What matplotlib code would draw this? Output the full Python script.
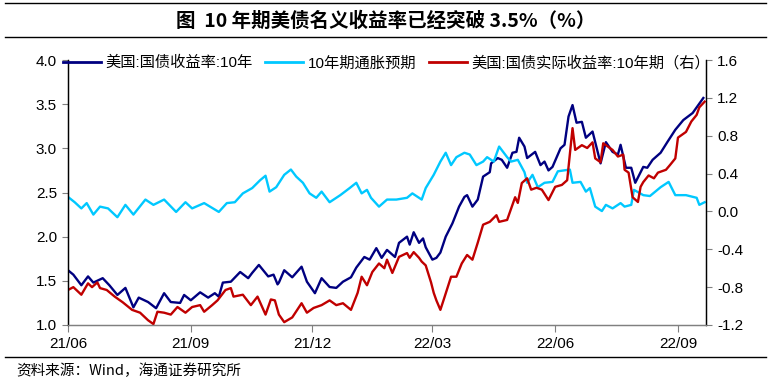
import numpy as np
import pandas as pd
import matplotlib
matplotlib.use("Agg")
import matplotlib.pyplot as plt
from matplotlib.lines import Line2D

plt.rcParams['font.family'] = ['Liberation Sans', 'Noto Sans CJK SC', 'DejaVu Sans']
plt.rcParams['axes.unicode_minus'] = False

# 美国10年期国债收益率（左轴）
nominal_dates = [
    "2021-06-01", "2021-06-05", "2021-06-11", "2021-06-16", "2021-06-20", "2021-06-27",
    "2021-07-02", "2021-07-08", "2021-07-14", "2021-07-20", "2021-07-24", "2021-07-31",
    "2021-08-06", "2021-08-12", "2021-08-17", "2021-08-24", "2021-08-27", "2021-09-01",
    "2021-09-08", "2021-09-14", "2021-09-19", "2021-09-22", "2021-09-25", "2021-10-01",
    "2021-10-08", "2021-10-14", "2021-10-17", "2021-10-22", "2021-10-29", "2021-11-02",
    "2021-11-05", "2021-11-06", "2021-11-10", "2021-11-16", "2021-11-23", "2021-11-27",
    "2021-12-03", "2021-12-08", "2021-12-14", "2021-12-19", "2021-12-24", "2021-12-30",
    "2022-01-03", "2022-01-09", "2022-01-13", "2022-01-18", "2022-01-22", "2022-01-26",
    "2022-02-01", "2022-02-04", "2022-02-10", "2022-02-12", "2022-02-15", "2022-02-19",
    "2022-02-22", "2022-02-24", "2022-03-01", "2022-03-04", "2022-03-07", "2022-03-11",
    "2022-03-16", "2022-03-21", "2022-03-25", "2022-03-27", "2022-03-31", "2022-04-04",
    "2022-04-08", "2022-04-13", "2022-04-14", "2022-04-19", "2022-04-22", "2022-04-26",
    "2022-04-30", "2022-05-03", "2022-05-05", "2022-05-09", "2022-05-11", "2022-05-17",
    "2022-05-21", "2022-05-24", "2022-05-27", "2022-05-30", "2022-06-05", "2022-06-08",
    "2022-06-11", "2022-06-14", "2022-06-17", "2022-06-21", "2022-06-24", "2022-06-29",
    "2022-07-05", "2022-07-09", "2022-07-14", "2022-07-18", "2022-07-20", "2022-07-24",
    "2022-07-28", "2022-07-31", "2022-08-06", "2022-08-09", "2022-08-13", "2022-08-19",
    "2022-08-24", "2022-08-30", "2022-09-05", "2022-09-12", "2022-09-20",
]
nominal = [
    1.62, 1.57, 1.45, 1.55, 1.48, 1.53,
    1.45, 1.34, 1.42, 1.20, 1.31, 1.26,
    1.19, 1.36, 1.26, 1.25, 1.34, 1.28,
    1.37, 1.31, 1.36, 1.32, 1.48, 1.49,
    1.60, 1.53, 1.59, 1.68, 1.55, 1.57,
    1.46, 1.48, 1.62, 1.54, 1.66, 1.49,
    1.36, 1.53, 1.43, 1.42, 1.49, 1.54,
    1.65, 1.77, 1.74, 1.87, 1.76, 1.85,
    1.77, 1.93, 2.00, 1.91, 2.05, 1.93,
    1.98, 1.88, 1.74, 1.76, 1.82, 2.00,
    2.15, 2.34, 2.45, 2.47, 2.34, 2.42,
    2.68, 2.73, 2.83, 2.89, 2.87, 2.78,
    2.95, 2.96, 3.12, 3.02, 2.89, 2.96,
    2.81, 2.85, 2.75, 2.79, 3.00, 3.04,
    3.36, 3.49, 3.29, 3.30, 3.12, 3.19,
    2.83, 3.07, 2.96, 2.93, 3.04, 2.78,
    2.78, 2.61, 2.79, 2.78, 2.87, 2.95,
    3.07, 3.21, 3.32, 3.40, 3.57,
]

# 10年期通胀预期（左轴）
breakeven_dates = [
    "2021-06-01", "2021-06-06", "2021-06-11", "2021-06-15", "2021-06-20", "2021-06-25",
    "2021-07-01", "2021-07-08", "2021-07-14", "2021-07-20", "2021-07-29", "2021-08-04",
    "2021-08-12", "2021-08-21", "2021-08-28", "2021-09-02", "2021-09-11", "2021-09-22",
    "2021-09-28", "2021-10-04", "2021-10-10", "2021-10-17", "2021-10-23", "2021-10-27",
    "2021-10-30", "2021-11-04", "2021-11-10", "2021-11-15", "2021-11-19", "2021-11-24",
    "2021-11-29", "2021-12-04", "2021-12-08", "2021-12-14", "2021-12-22", "2021-12-29",
    "2022-01-03", "2022-01-07", "2022-01-11", "2022-01-14", "2022-01-20", "2022-01-26",
    "2022-02-02", "2022-02-10", "2022-02-14", "2022-02-21", "2022-02-24", "2022-03-02",
    "2022-03-07", "2022-03-11", "2022-03-15", "2022-03-19", "2022-03-25", "2022-03-29",
    "2022-04-03", "2022-04-08", "2022-04-11", "2022-04-16", "2022-04-20", "2022-04-26",
    "2022-04-29", "2022-05-04", "2022-05-09", "2022-05-11", "2022-05-15", "2022-05-19",
    "2022-05-24", "2022-05-30", "2022-06-03", "2022-06-12", "2022-06-14", "2022-06-20",
    "2022-06-24", "2022-06-27", "2022-07-01", "2022-07-06", "2022-07-09", "2022-07-14",
    "2022-07-20", "2022-07-23", "2022-07-28", "2022-07-30", "2022-08-06", "2022-08-11",
    "2022-08-19", "2022-08-25", "2022-08-30", "2022-09-07", "2022-09-15", "2022-09-17",
    "2022-09-21",
]
breakeven = [
    2.45, 2.39, 2.32, 2.38, 2.25, 2.34,
    2.32, 2.22, 2.36, 2.25, 2.42, 2.36,
    2.42, 2.28, 2.39, 2.32, 2.38, 2.28,
    2.38, 2.39, 2.49, 2.55, 2.64, 2.69,
    2.51, 2.56, 2.70, 2.76, 2.68, 2.61,
    2.49, 2.44, 2.51, 2.39, 2.47, 2.55,
    2.61, 2.49, 2.53, 2.44, 2.34, 2.42,
    2.42, 2.44, 2.49, 2.42, 2.55, 2.70,
    2.85, 2.95, 2.81, 2.90, 2.95, 2.93,
    2.81, 2.85, 2.90, 2.85, 3.02, 2.90,
    2.85, 2.87, 2.73, 2.61, 2.70, 2.56,
    2.61, 2.62, 2.74, 2.76, 2.61, 2.62,
    2.51, 2.55, 2.34, 2.29, 2.36, 2.32,
    2.38, 2.34, 2.36, 2.53, 2.47, 2.46,
    2.56, 2.62, 2.47, 2.47, 2.44, 2.36,
    2.39,
]

# 美国10年期国债实际收益率（右轴）
real_dates = [
    "2021-06-01", "2021-06-05", "2021-06-11", "2021-06-16", "2021-06-19", "2021-06-23",
    "2021-06-25", "2021-06-30", "2021-07-06", "2021-07-12", "2021-07-19", "2021-07-25",
    "2021-07-31", "2021-08-04", "2021-08-07", "2021-08-12", "2021-08-17", "2021-08-22",
    "2021-08-28", "2021-09-02", "2021-09-08", "2021-09-11", "2021-09-17", "2021-09-21",
    "2021-09-27", "2021-10-01", "2021-10-03", "2021-10-10", "2021-10-16", "2021-10-21",
    "2021-10-27", "2021-10-31", "2021-11-03", "2021-11-06", "2021-11-10", "2021-11-16",
    "2021-11-23", "2021-11-27", "2021-12-02", "2021-12-08", "2021-12-14", "2021-12-19",
    "2021-12-24", "2021-12-30", "2022-01-04", "2022-01-07", "2022-01-11", "2022-01-15",
    "2022-01-20", "2022-01-24", "2022-01-26", "2022-01-30", "2022-02-04", "2022-02-10",
    "2022-02-12", "2022-02-15", "2022-02-19", "2022-02-21", "2022-02-24", "2022-02-28",
    "2022-03-02", "2022-03-04", "2022-03-07", "2022-03-10", "2022-03-15", "2022-03-19",
    "2022-03-23", "2022-03-27", "2022-03-31", "2022-04-04", "2022-04-08", "2022-04-13",
    "2022-04-18", "2022-04-20", "2022-04-26", "2022-05-02", "2022-05-04", "2022-05-07",
    "2022-05-11", "2022-05-14", "2022-05-18", "2022-05-22", "2022-05-27", "2022-06-01",
    "2022-06-06", "2022-06-10", "2022-06-14", "2022-06-16", "2022-06-21", "2022-06-25",
    "2022-06-29", "2022-07-01", "2022-07-05", "2022-07-07", "2022-07-14", "2022-07-18",
    "2022-07-22", "2022-07-23", "2022-07-26", "2022-07-29", "2022-08-02", "2022-08-04",
    "2022-08-06", "2022-08-10", "2022-08-14", "2022-08-17", "2022-08-23", "2022-08-26",
    "2022-08-30", "2022-09-01", "2022-09-07", "2022-09-11", "2022-09-15", "2022-09-17",
    "2022-09-21",
]
real = [
    -0.83, -0.80, -0.88, -0.76, -0.80, -0.75,
    -0.81, -0.83, -0.90, -0.96, -1.04, -1.07,
    -1.15, -1.19, -1.06, -1.07, -1.09, -1.01,
    -1.07, -1.01, -0.99, -1.06, -0.99, -0.94,
    -0.83, -0.81, -0.90, -0.88, -0.99, -0.90,
    -1.09, -0.93, -0.94, -1.09, -1.17, -1.12,
    -0.97, -1.07, -1.02, -0.99, -0.94, -0.99,
    -0.97, -1.04, -0.86, -0.69, -0.78, -0.64,
    -0.55, -0.60, -0.51, -0.65, -0.48, -0.44,
    -0.49, -0.43, -0.49, -0.53, -0.57, -0.75,
    -0.86, -0.94, -1.04, -0.91, -0.69, -0.69,
    -0.55, -0.46, -0.51, -0.33, -0.14, -0.11,
    -0.04, -0.11, -0.09, 0.15, 0.09, 0.30,
    0.35, 0.23, 0.25, 0.23, 0.12, 0.26,
    0.28, 0.33, 0.88, 0.65, 0.70, 0.67,
    0.73, 0.56, 0.52, 0.72, 0.65, 0.58,
    0.60, 0.44, 0.41, 0.15, 0.10, 0.26,
    0.31, 0.38, 0.35, 0.41, 0.44, 0.49,
    0.56, 0.78, 0.84, 0.95, 1.02, 1.10,
    1.16,
]

labels = ["美国:国债收益率:10年", "10年期通胀预期", "美国:国债实际收益率:10年期（右）"]
colors = ["#000080", "#00C8FF", "#C00000"]
tick_months = ["2021-06-01", "2021-09-01", "2021-12-01", "2022-03-01", "2022-06-01", "2022-09-01"]
tick_labels = ["21/06", "21/09", "21/12", "22/03", "22/06", "22/09"]

W, H = 771, 383
fig = plt.figure(figsize=(W / 100, H / 100), dpi=100)
ax = fig.add_axes([68 / W, 1 - 325 / H, (706 - 68) / W, (325 - 60) / H])
ax2 = ax.twinx()

l1, = ax.plot(pd.to_datetime(nominal_dates), nominal, color=colors[0], lw=1.7)
l2, = ax.plot(pd.to_datetime(breakeven_dates), breakeven, color=colors[1], lw=1.7)
l3, = ax2.plot(pd.to_datetime(real_dates), real, color=colors[2], lw=1.7)

ax.set_xlim(pd.Timestamp("2021-06-01"), pd.Timestamp("2022-09-22"))
ax.set_ylim(1.0, 4.0)
ax.set_yticks(np.arange(1.0, 4.01, 0.5))
ax.yaxis.set_major_formatter(plt.FormatStrFormatter('%.1f'))
right_ticks = np.round(np.arange(-1.2, 1.61, 0.4), 1)
ax2.set_ylim(-1.2, 1.6)
ax2.set_yticks(right_ticks)
ax2.set_yticklabels([f"{v:.1f}" if v != 0 else "0.0" for v in right_ticks])

ax.set_xticks(pd.to_datetime(tick_months))
ax.set_xticklabels(tick_labels)

for a in (ax, ax2):
    a.spines['top'].set_visible(False)
    a.spines['left'].set_linewidth(0.9)
    a.spines['right'].set_linewidth(0.9)
    a.spines['bottom'].set_linewidth(0.9)
    a.spines['bottom'].set_color('#808080')
ax.tick_params(axis='y', direction='out', length=4, width=0.8, color='#808080', labelsize=11, pad=4)
ax2.tick_params(axis='y', direction='out', length=4, width=0.8, color='#808080', labelsize=11, pad=4)
ax.tick_params(axis='x', direction='out', length=5, width=0.8, color='#808080', labelsize=11, pad=4)

leg = fig.legend([l1, l2, l3], labels, loc='center left', bbox_to_anchor=(63 / W, 1 - 63 / H),
                 ncol=3, frameon=False, fontsize=11, handlelength=2.5, handletextpad=0.3,
                 columnspacing=0.8, borderpad=0, borderaxespad=0)
for h in leg.legend_handles:
    h.set_linewidth(2.0)

fig.text(0.5, 1 - 21 / H, "图  10 年期美债名义收益率已经突破 3.5%（%）", ha='center', va='center',
         fontsize=14, fontweight='bold', family=['Noto Sans CJK SC', 'DejaVu Sans'])
for yy in (3, 37, 357):
    fig.add_artist(Line2D([5 / W, 766 / W], [1 - yy / H, 1 - yy / H], color='black', lw=1.0))
fig.text(16 / W, 1 - 371 / H, "资料来源：Wind，海通证券研究所", ha='left', va='center', fontsize=10.5,
         family=['Noto Sans CJK SC', 'DejaVu Sans'])

fig.savefig("out.png", dpi=100)
